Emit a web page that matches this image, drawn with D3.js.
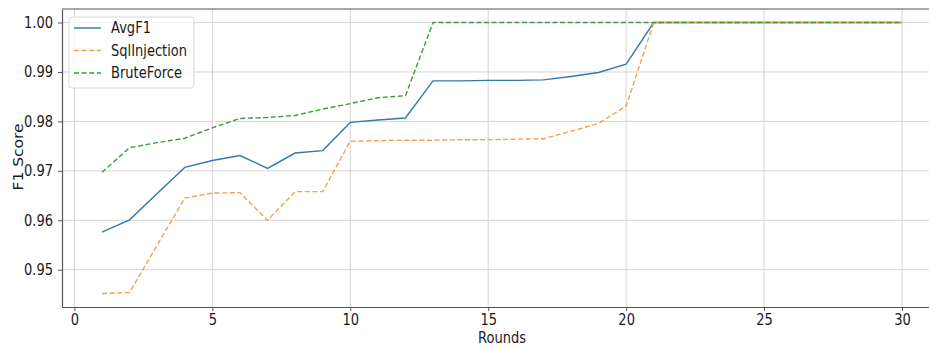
<!DOCTYPE html>
<html>
<head>
<meta charset="utf-8">
<script src="https://cdn.jsdelivr.net/npm/d3@7"></script>
<style>
  body { margin: 0; background: #fff; }
  svg { display: block; font-family: "DejaVu Sans", sans-serif; }
</style>
</head>
<body>
<div id="chart"></div>
<script>
// F1 por ronda
const rounds = [1, 2, 3, 4, 5, 6, 7, 8, 9, 10, 11, 12, 13, 14, 15, 16, 17, 18, 19, 20, 21, 22, 23, 24, 25, 26, 27, 28, 29, 30];
const avgF1 = [0.9576, 0.9601, 0.9654, 0.9707, 0.9721, 0.9731, 0.9705, 0.9736, 0.9741, 0.9798,
  0.9803, 0.9807, 0.9882, 0.9882, 0.9883, 0.9883, 0.9884, 0.9891, 0.9899, 0.9916,
  1.0, 1.0, 1.0, 1.0, 1.0, 1.0, 1.0, 1.0, 1.0, 1.0];
const sqlInjection = [0.9452, 0.9454, 0.9550, 0.9645, 0.9655, 0.9656, 0.9600, 0.9658, 0.9658, 0.9760,
  0.9761, 0.9762, 0.9762, 0.9763, 0.9763, 0.9764, 0.9765, 0.9780, 0.9796, 0.9831,
  1.0, 1.0, 1.0, 1.0, 1.0, 1.0, 1.0, 1.0, 1.0, 1.0];
const bruteForce = [0.9697, 0.9747, 0.9757, 0.9766, 0.9787, 0.9806, 0.9808, 0.9812, 0.9825, 0.9836,
  0.9848, 0.9852, 1.0, 1.0, 1.0, 1.0, 1.0, 1.0, 1.0, 1.0,
  1.0, 1.0, 1.0, 1.0, 1.0, 1.0, 1.0, 1.0, 1.0, 1.0];
const seriesNames = ["AvgF1", "SqlInjection", "BruteForce"];
const xTicks = [0, 5, 10, 15, 20, 25, 30];
const yTicks = [0.95, 0.96, 0.97, 0.98, 0.99, 1.00];

const width = 929;
const height = 347;
const sx = 0.87; // el texto del original está algo estrechado

const series = [
  { name: seriesNames[0], values: avgF1, color: "#3379aa", dash: null },
  { name: seriesNames[1], values: sqlInjection, color: "#f4a04c", dash: "5,2.6" },
  { name: seriesNames[2], values: bruteForce, color: "#3f993f", dash: "5,2.6" }
];

// estrecha un texto horizontalmente sin mover su ancla
function squeeze(sel) {
  sel.each(function () {
    const t = d3.select(this);
    const x0 = +t.attr("x") || 0;
    t.attr("x", x0 / sx).attr("transform", `scale(${sx},1)`);
  });
}

const svg = d3.select("#chart")
  .append("svg")
  .attr("width", width)
  .attr("height", height);

const x = d3.scaleLinear().domain([-0.45, 31.45]).range([62, 942]);
const y = d3.scaleLinear().domain([0.94246, 1.00274]).range([307, 9]);

// grid
svg.append("g")
  .selectAll("line")
  .data(xTicks)
  .enter()
  .append("line")
  .attr("x1", d => x(d)).attr("x2", d => x(d))
  .attr("y1", y.range()[0]).attr("y2", y.range()[1])
  .attr("stroke", "#d4d4d4").attr("stroke-width", 1);

svg.append("g")
  .selectAll("line")
  .data(yTicks)
  .enter()
  .append("line")
  .attr("x1", x.range()[0]).attr("x2", x.range()[1])
  .attr("y1", d => y(d)).attr("y2", d => y(d))
  .attr("stroke", "#d4d4d4").attr("stroke-width", 1);

// axes
const xAxis = svg.append("g")
  .attr("transform", `translate(0,${y.range()[0]})`)
  .call(d3.axisBottom(x).tickValues(xTicks).tickSize(4).tickSizeOuter(0).tickPadding(3).tickFormat(d3.format("d")));

const yAxis = svg.append("g")
  .attr("transform", `translate(${x.range()[0]},0)`)
  .call(d3.axisLeft(y).tickValues(yTicks).tickSize(4).tickSizeOuter(0).tickPadding(5).tickFormat(d3.format(".2f")));

[xAxis, yAxis].forEach(a => {
  a.select(".domain").attr("stroke", "#555").attr("stroke-width", 1.2);
  a.selectAll(".tick line").attr("stroke", "#555");
  a.selectAll(".tick text")
    .attr("fill", "#1a1a1a")
    .style("font-size", "15px")
    .style("font-family", "DejaVu Sans, sans-serif")
    .call(squeeze);
});

// borde superior
svg.append("line")
  .attr("x1", x.range()[0]).attr("x2", x.range()[1])
  .attr("y1", y.range()[1]).attr("y2", y.range()[1])
  .attr("stroke", "#555").attr("stroke-width", 1.2);

// lines
const line = d3.line()
  .x((d, i) => x(rounds[i]))
  .y(d => y(d));

series.forEach(s => {
  svg.append("path")
    .datum(s.values)
    .attr("fill", "none")
    .attr("stroke", s.color)
    .attr("stroke-width", 1.4)
    .attr("stroke-dasharray", s.dash)
    .attr("d", line);
});

// axis titles
svg.append("text")
  .attr("x", (x.range()[0] + x.range()[1]) / 2)
  .attr("y", 343)
  .attr("text-anchor", "middle")
  .style("font-size", "15px")
  .attr("fill", "#1a1a1a")
  .text("Rounds")
  .call(squeeze);

svg.append("text")
  .attr("transform", `translate(23,157) rotate(-90) scale(1,${sx})`)
  .attr("text-anchor", "middle")
  .style("font-size", "15.5px")
  .attr("fill", "#1a1a1a")
  .text("F1 Score");

// legend
const legend = svg.append("g").attr("transform", "translate(69,17)");
legend.append("rect")
  .attr("width", 125).attr("height", 71)
  .attr("rx", 3)
  .attr("fill", "#fff").attr("fill-opacity", 0.8)
  .attr("stroke", "#d8d8d8");

series.forEach((s, i) => {
  const ly = 11 + i * 22.5;
  legend.append("line")
    .attr("x1", 5).attr("x2", 32)
    .attr("y1", ly).attr("y2", ly)
    .attr("stroke", s.color)
    .attr("stroke-width", 1.4)
    .attr("stroke-dasharray", s.dash);
  legend.append("text")
    .attr("x", 42).attr("y", ly + 5.5)
    .style("font-size", "15px")
    .attr("fill", "#1a1a1a")
    .text(s.name)
    .call(squeeze);
});
</script>
</body>
</html>
